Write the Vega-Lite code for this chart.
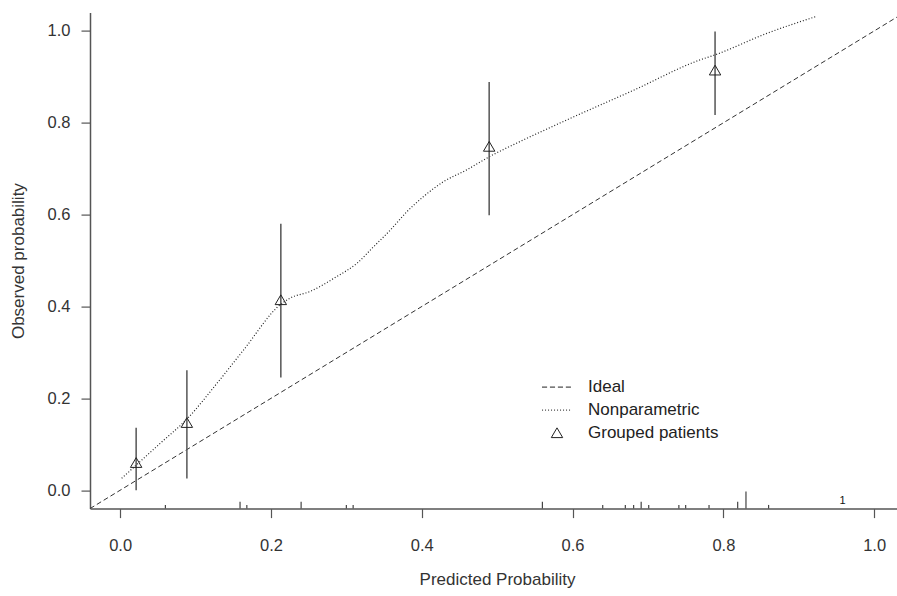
{
  "$schema": "https://vega.github.io/schema/vega-lite/v6.json",
  "width": 807,
  "height": 496,
  "autosize": {"type": "none"},
  "padding": {"left": 90, "top": 12.6, "right": 0, "bottom": 87.4},
  "background": "white",
  "config": {
    "font": "Liberation Sans",
    "view": {"stroke": null},
    "axis": {
      "grid": false,
      "domainColor": "#555",
      "domainWidth": 1.5,
      "tickColor": "#555",
      "tickSize": 9,
      "tickWidth": 1.2,
      "labelFont": "Liberation Sans",
      "labelFontSize": 16.5,
      "labelColor": "#333",
      "titleFont": "Liberation Sans",
      "titleFontSize": 17,
      "titleFontWeight": "normal",
      "titleColor": "#333"
    },
    "axisX": {"labelPadding": 20, "titlePadding": 17},
    "axisY": {"labelPadding": 11, "titlePadding": 19.5, "labelAngle": 0}
  },
  "datasets": {
    "ideal": [
      {"p": -0.04, "o": -0.04},
      {"p": 1.04, "o": 1.04}
    ],
    "smooth": [
      {"p": 0.002, "o": 0.026},
      {"p": 0.053, "o": 0.102},
      {"p": 0.0885, "o": 0.155},
      {"p": 0.13, "o": 0.236},
      {"p": 0.1635, "o": 0.305},
      {"p": 0.2131, "o": 0.405},
      {"p": 0.225, "o": 0.418},
      {"p": 0.252, "o": 0.433},
      {"p": 0.287, "o": 0.465},
      {"p": 0.314, "o": 0.494},
      {"p": 0.336, "o": 0.53},
      {"p": 0.358, "o": 0.566},
      {"p": 0.38, "o": 0.606},
      {"p": 0.402, "o": 0.639},
      {"p": 0.429, "o": 0.672},
      {"p": 0.459, "o": 0.697},
      {"p": 0.4894, "o": 0.726},
      {"p": 0.53, "o": 0.759},
      {"p": 0.592, "o": 0.806},
      {"p": 0.681, "o": 0.871},
      {"p": 0.769, "o": 0.937},
      {"p": 0.789, "o": 0.948},
      {"p": 0.858, "o": 0.995},
      {"p": 0.922, "o": 1.031}
    ],
    "groups": [
      {"p": 0.0212, "o": 0.0595, "lo": 0.0, "hi": 0.136, "series": "Grouped patients"},
      {"p": 0.0885, "o": 0.1466, "lo": 0.0255, "hi": 0.261, "series": "Grouped patients"},
      {"p": 0.2131, "o": 0.414, "lo": 0.2455, "hi": 0.58, "series": "Grouped patients"},
      {"p": 0.4894, "o": 0.748, "lo": 0.599, "hi": 0.889, "series": "Grouped patients"},
      {"p": 0.789, "o": 0.914, "lo": 0.817, "hi": 0.999, "series": "Grouped patients"}
    ],
    "rug": [
      {"p": 0.06, "o": -0.032},
      {"p": 0.159, "o": -0.025},
      {"p": 0.168, "o": -0.032},
      {"p": 0.24, "o": -0.025},
      {"p": 0.3, "o": -0.032},
      {"p": 0.309, "o": -0.032},
      {"p": 0.56, "o": -0.025},
      {"p": 0.64, "o": -0.032},
      {"p": 0.67, "o": -0.032},
      {"p": 0.681, "o": -0.032},
      {"p": 0.691, "o": -0.025},
      {"p": 0.701, "o": -0.032},
      {"p": 0.741, "o": -0.032},
      {"p": 0.75, "o": -0.032},
      {"p": 0.781, "o": -0.032},
      {"p": 0.819, "o": -0.025},
      {"p": 0.83, "o": -0.003},
      {"p": 0.86, "o": -0.032}
    ],
    "marker": [
      {"p": 0.958, "o": -0.024, "txt": "1"}
    ]
  },
  "encoding": {
    "x": {
      "field": "p",
      "type": "quantitative",
      "title": "Predicted Probability",
      "scale": {"domain": [-0.04, 1.0303], "nice": false, "zero": false},
      "axis": {"values": [0, 0.2, 0.4, 0.6, 0.8, 1.0], "format": ".1f", "titleX": 407}
    },
    "y": {
      "field": "o",
      "type": "quantitative",
      "title": "Observed probability",
      "scale": {"domain": [-0.04, 1.04], "nice": false, "zero": false},
      "axis": {"values": [0, 0.2, 0.4, 0.6, 0.8, 1.0], "format": ".1f"}
    }
  },
  "layer": [
    {
      "data": {"name": "ideal"},
      "mark": {"type": "line", "clip": true, "color": "#333", "strokeWidth": 1, "strokeDash": [5, 3]}
    },
    {
      "data": {"name": "smooth"},
      "mark": {"type": "line", "clip": true, "color": "#222", "strokeWidth": 1.2, "strokeDash": [1, 2], "interpolate": "monotone"}
    },
    {
      "data": {"name": "groups"},
      "mark": {"type": "rule", "color": "#555", "strokeWidth": 1.5},
      "encoding": {
        "y": {"field": "lo", "type": "quantitative", "title": "Observed probability"},
        "y2": {"field": "hi"}
      }
    },
    {
      "data": {"name": "groups"},
      "mark": {"type": "point", "filled": false, "size": 225, "strokeWidth": 1, "color": "#222", "opacity": 1},
      "encoding": {
        "shape": {
          "field": "series",
          "type": "nominal",
          "scale": {
            "domain": ["Ideal", "Nonparametric", "Grouped patients"],
            "range": [
              "M-2,0H-1.32M-0.94,0H-0.26M0.12,0H0.8M1.18,0H1.86",
              "M-2,0h0.14M-1.6,0h0.14M-1.2,0h0.14M-0.8,0h0.14M-0.4,0h0.14M0,0h0.14M0.4,0h0.14M0.8,0h0.14M1.2,0h0.14M1.6,0h0.14",
              "M0,-0.7L0.76,0.6L-0.76,0.6Z"
            ]
          },
          "legend": {
            "title": null,
            "orient": "none",
            "legendX": 458.5,
            "legendY": 366,
            "padding": 0,
            "symbolSize": 225,
            "symbolStrokeColor": "#222",
            "symbolFillColor": "transparent",
            "symbolStrokeWidth": 1,
            "labelFont": "Liberation Sans",
            "labelFontSize": 17,
            "labelColor": "#222",
            "labelOffset": 22.5,
            "rowPadding": 5
          }
        }
      }
    },
    {
      "data": {"name": "rug"},
      "mark": {"type": "rule", "color": "#444", "strokeWidth": 1.2},
      "encoding": {
        "y2": {"datum": -0.04}
      }
    },
    {
      "data": {"name": "marker"},
      "mark": {"type": "text", "fontSize": 11, "color": "#111", "baseline": "middle", "align": "center"},
      "encoding": {
        "text": {"field": "txt"}
      }
    },
    {
      "mark": {"type": "rule", "color": "#555", "strokeWidth": 1.5},
      "encoding": {
        "y": {"datum": 1.04}
      }
    }
  ]
}
